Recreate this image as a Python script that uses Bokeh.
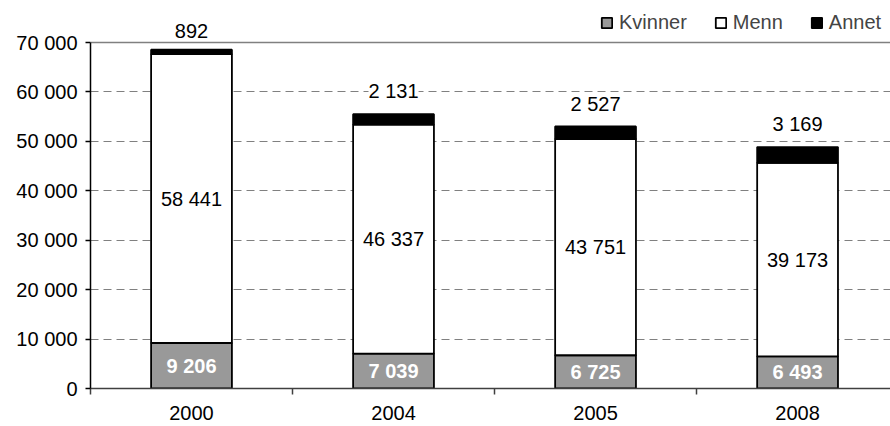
from bokeh.plotting import figure
from bokeh.models import (ColumnDataSource, Range1d, FixedTicker, LabelSet, Span, Legend)
from bokeh.core.properties import value
from bokeh.embed import file_html
from bokeh.resources import INLINE

years = ["2000", "2004", "2005", "2008"]
kvinner = [9206, 7039, 6725, 6493]
menn = [58441, 46337, 43751, 39173]
annet = [892, 2131, 2527, 3169]
y_ticks = [0, 10000, 20000, 30000, 40000, 50000, 60000, 70000]
y_tick_labels = ["0", "10 000", "20 000", "30 000", "40 000", "50 000", "60 000", "70 000"]

FONT = "Liberation Sans"
FS = "20px"

def fmt(v):
    return f"{v:,}".replace(",", " ")

xs = [i + 0.5 for i in range(len(years))]
src = ColumnDataSource(dict(
    x=xs, kv=kvinner, menn=menn, annet=annet,
    kv_mid=[k / 2 for k in kvinner],
    menn_mid=[k + m / 2 for k, m in zip(kvinner, menn)],
    top=[k + m + a for k, m, a in zip(kvinner, menn, annet)],
    kv_txt=[fmt(v) for v in kvinner],
    menn_txt=[fmt(v) for v in menn],
    annet_txt=[fmt(v) for v in annet],
))

H, TOP, BOT = 426, 2, 38
frame_h = H - TOP - BOT
y_end = 70000 * frame_h / 346.0

p = figure(width=890, height=H, output_backend="svg", toolbar_location=None,
           x_range=Range1d(0, 3.96), y_range=Range1d(0, y_end),
           min_border_left=90, min_border_right=0, min_border_top=TOP, min_border_bottom=BOT)
p.outline_line_color = None
p.xgrid.visible = False
p.ygrid.grid_line_color = "#808080"
p.ygrid.grid_line_dash = "8 5"
p.ygrid.grid_line_width = 1.2
p.ygrid.ticker = FixedTicker(ticks=y_ticks[1:-1])
p.add_layout(Span(location=70000, dimension="width", line_color="#808080", line_width=1.5, level="underlay"))

renderers = p.vbar_stack(["kv", "menn", "annet"], x="x", width=0.4, source=src,
                         fill_color=["#999999", "#ffffff", "#000000"],
                         line_color="black", line_width=1.8)

# y axis
ya = p.yaxis[0]
ya.bounds = (0, 70000)
ya.ticker = FixedTicker(ticks=y_ticks)
ya.major_label_overrides = {t: l for t, l in zip(y_ticks, y_tick_labels)}
ya.axis_line_color = "black"
ya.axis_line_width = 1.5
ya.major_tick_line_color = "black"
ya.major_tick_line_width = 1.5
ya.major_tick_out = 5
ya.major_tick_in = 0
ya.minor_tick_line_color = None
ya.major_label_standoff = 8
ya.major_label_text_font = FONT
ya.major_label_text_font_size = FS
ya.major_label_text_color = "black"

# x axis
xa = p.xaxis[0]
xa.ticker = FixedTicker(ticks=xs, minor_ticks=list(range(len(years) + 1)))
xa.major_label_overrides = {x: y for x, y in zip(xs, years)}
xa.axis_line_color = "#404040"
xa.axis_line_width = 1.5
xa.major_tick_line_color = None
xa.major_tick_out = 0
xa.major_tick_in = 0
xa.minor_tick_line_color = "#404040"
xa.minor_tick_line_width = 1.5
xa.minor_tick_out = 6
xa.minor_tick_in = 0
xa.major_label_standoff = 11
xa.major_label_text_font = FONT
xa.major_label_text_font_size = FS
xa.major_label_text_color = "black"

# labels
p.add_layout(LabelSet(x="x", y="kv_mid", text="kv_txt", source=src, text_align="center",
                      text_baseline="middle", text_color="white", text_font_style="bold",
                      text_font=value(FONT), text_font_size=FS))
p.add_layout(LabelSet(x="x", y="menn_mid", text="menn_txt", source=src, text_align="center",
                      text_baseline="middle", text_color="black",
                      text_font=value(FONT), text_font_size=FS))
p.add_layout(LabelSet(x="x", y="top", text="annet_txt", source=src, text_align="center",
                      text_baseline="bottom", text_color="black", y_offset=12,
                      background_fill_color="white",
                      text_font=value(FONT), text_font_size=FS))

legend = Legend(items=[(n, [r]) for n, r in zip(["Kvinner", "Menn", "Annet"], renderers)],
                location=(510, frame_h - 32), orientation="horizontal",
                border_line_color=None, background_fill_alpha=0,
                padding=0, margin=0, spacing=27, label_standoff=6,
                glyph_width=13, glyph_height=13, label_height=20,
                label_text_font=FONT, label_text_font_size=FS)
p.add_layout(legend, "center")

open("out.html", "w").write(file_html(p, INLINE))
